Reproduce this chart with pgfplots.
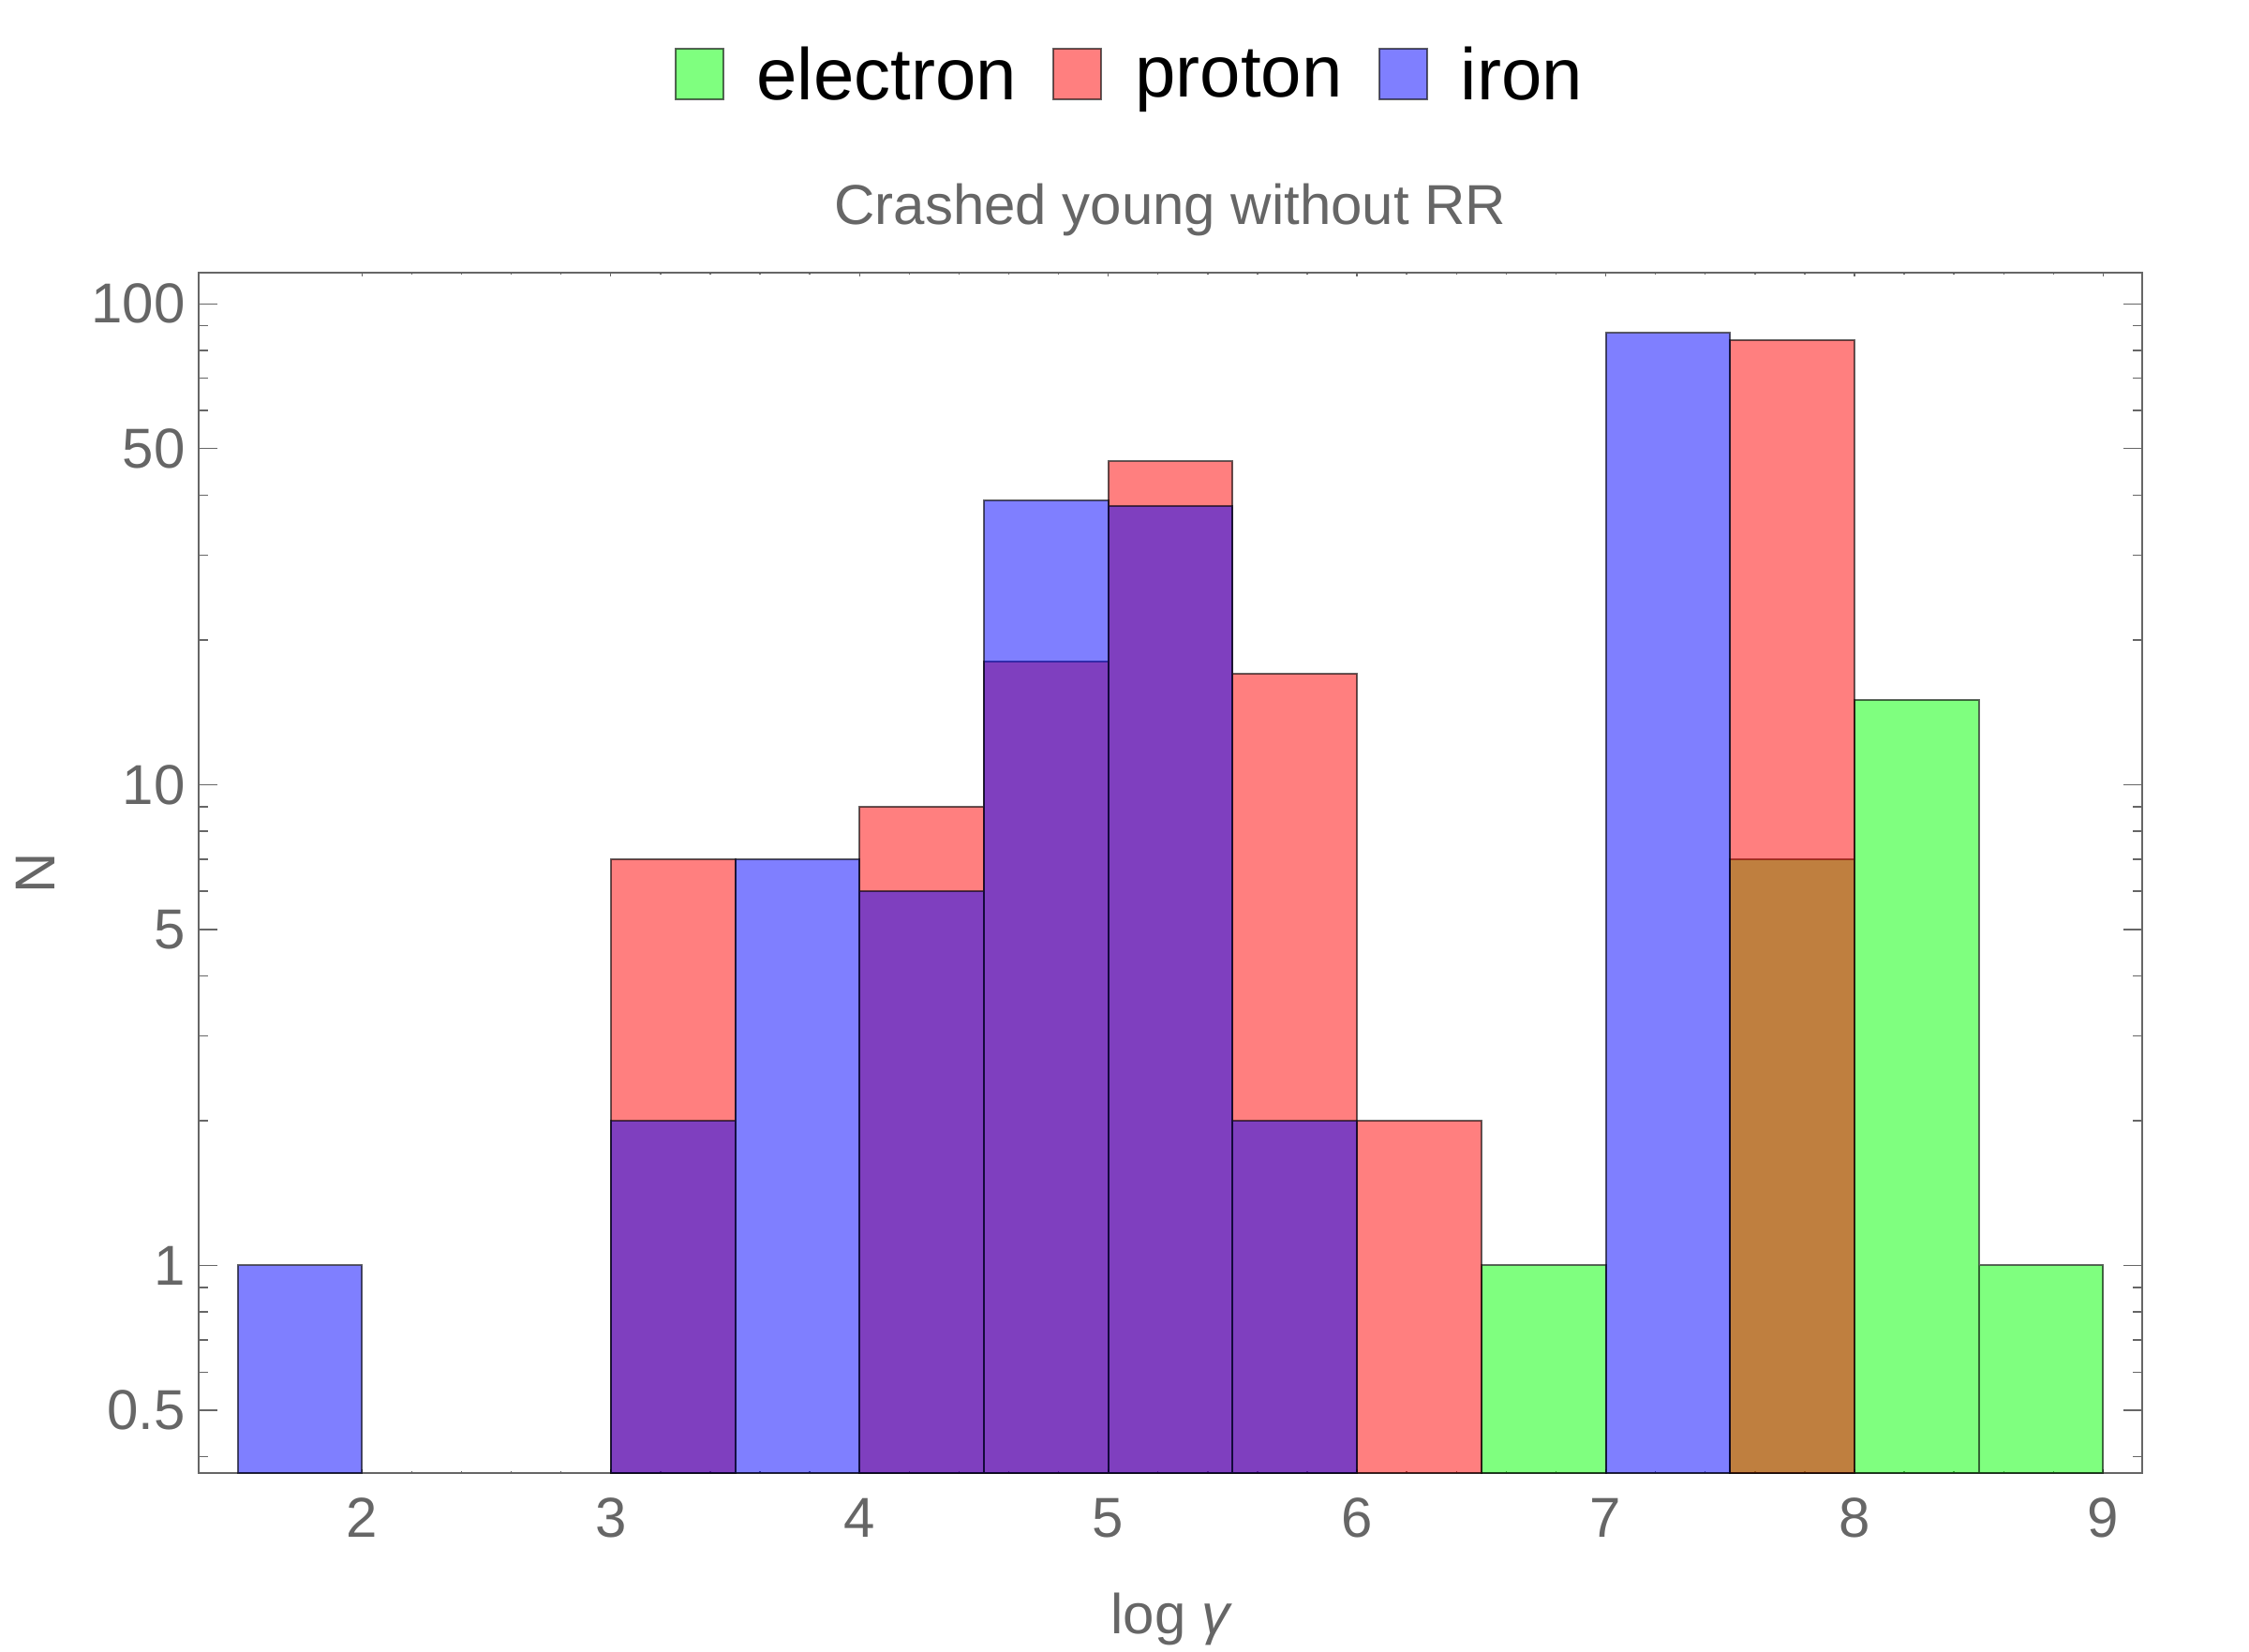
\documentclass[border=0pt]{standalone}
\usepackage{fontspec}
\setmainfont{Liberation Sans}
\usepackage{pgfplots}
\pgfplotsset{compat=1.18}
\definecolor{axgray}{RGB}{102,102,102}
\begin{document}
\begin{tikzpicture}
\useasboundingbox (-52.925bp,-47.75bp) rectangle (547.075bp,393bp);
\begin{axis}[
  at={(0,0)}, anchor=south west,
  scale only axis, width=518.6bp, height=320.25bp,
  xmin=1.342, xmax=9.157,
  ymode=log, ymin=0.370, ymax=116.1,
  log origin y=infty,
  axis line style={draw=axgray, line width=0.5bp},
  xtick={2,3,4,5,6,7,8,9},
  xticklabels={2,3,4,5,6,7,8,9},
  minor x tick num=4,
  ytick={0.5,1,5,10,50,100},
  yticklabels={0.5,1,5,10,50,100},
  minor ytick={0.4,0.6,0.7,0.8,0.9,2,3,4,6,7,8,9,20,30,40,60,70,80,90},
  tick align=inside,
  major tick length=5bp, minor tick length=2.5bp,
  x tick style={/pgfplots/major tick length=0.9bp,/pgfplots/minor tick length=0.6bp},
  tick style={draw=axgray, line width=0.35bp},
  tick label style={font=\fontsize{15bp}{18bp}\selectfont, text=axgray},
  xticklabel style={yshift=-3.25bp},
  every axis title/.style={at={(axis description cs:0.5,1)}, anchor=base, yshift=12.75bp,
     font=\fontsize{15bp}{18bp}\selectfont, text=axgray},
  title={Crashed young without RR},
  every axis x label/.style={at={(axis description cs:0.5,0)}, anchor=base, yshift=-42.75bp,
     font=\fontsize{15bp}{18bp}\selectfont, text=axgray},
  xlabel={log {\itshape γ}},
  every axis y label/.style={at={(axis description cs:0,0.5)}, xshift=-38.4bp, rotate=90, anchor=base,
     font=\fontsize{15bp}{18bp}\selectfont, text=axgray},
  ylabel={N},
  legend columns=-1,
  legend image code/.code={\draw[#1] (0bp,-6.15bp) rectangle (12.75bp,7.35bp); \path (19.5bp,0bp);},
  legend style={at={(axis description cs:0.4804,1.1634)}, anchor=center, draw=none, fill=none,
     font=\fontsize{19.5bp}{23bp}\selectfont, text=black,
     /tikz/every even column/.append style={column sep=7.6bp}},
]
\addplot[ybar, bar width=0.5, bar shift=0pt, fill=green, fill opacity=0.5, draw=black, draw opacity=0.6, line width=0.5bp]
  coordinates {(6.75,1) (7.75,7) (8.25,15) (8.75,1)};
\addlegendentry{electron}
\addplot[ybar, bar width=0.5, bar shift=0pt, fill=red, fill opacity=0.5, draw=black, draw opacity=0.6, line width=0.5bp]
  coordinates {(3.25,7) (4.25,9) (4.75,18) (5.25,47) (5.75,17) (6.25,2) (7.75,84)};
\addlegendentry{proton}
\addplot[ybar, bar width=0.5, bar shift=0pt, fill=blue, fill opacity=0.5, draw=black, draw opacity=0.6, line width=0.5bp]
  coordinates {(1.75,1) (3.25,2) (3.75,7) (4.25,6) (4.75,39) (5.25,38) (5.75,2) (7.25,87)};
\addlegendentry{iron}
\end{axis}
\end{tikzpicture}
\end{document}
